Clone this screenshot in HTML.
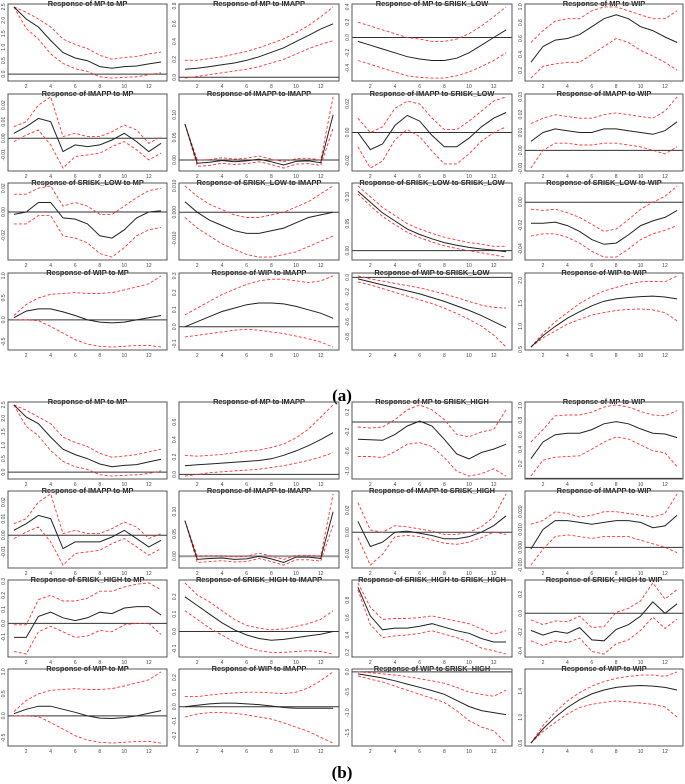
<!DOCTYPE html>
<html><head><meta charset="utf-8"><style>
html,body{margin:0;padding:0;background:#fff;}
svg{display:block;font-family:"Liberation Sans",Arial,sans-serif;}
</style></head><body>
<svg id="fig" width="685" height="784" viewBox="0 0 685 784" xmlns="http://www.w3.org/2000/svg">
<text x="342" y="401" text-anchor="middle" font-family="Liberation Serif" font-weight="bold" font-size="17">(a)</text>
<text x="342" y="778" text-anchor="middle" font-family="Liberation Serif" font-weight="bold" font-size="17">(b)</text>
</svg>
<script>
const periods=[1,2,3,4,5,6,7,8,9,10,11,12,13];
const xTicks=[2,4,6,8,10,12];
const varsA=["MP","IMAPP","SRISK_LOW","WIP"];
const varsB=["MP","IMAPP","SRISK_HIGH","WIP"];
const A_mid=[
[2.5,2.05,1.75,1.25,0.8,0.6,0.5,0.28,0.22,0.28,0.3,0.38,0.45],
[.09,.10,.12,.14,.16,.19,.23,.28,.33,.40,.47,.54,.60],
[-0.05,-0.1,-0.15,-0.2,-0.25,-0.28,-0.3,-0.3,-0.27,-0.2,-0.1,0.0,0.1],
[.3,.5,.58,.6,.65,.75,.85,.9,.85,.75,.7,.62,.55],
[.003,.007,.012,.010,-.008,-.004,-.005,-.004,-.001,.003,-.002,-.008,-.003],
[.08,-.007,-.005,-.001,-.004,-.002,.002,-.004,-.011,-.003,-.002,-.006,.10],
[0.0,-0.012,-0.008,0.005,0.012,0.008,-0.002,-0.01,-0.01,-0.004,0.004,0.01,0.014],
[.005,.01,.012,.011,.01,.01,.012,.012,.011,.01,.009,.011,.016],
[-0.002,0,0.008,0.008,-0.005,-0.006,-0.01,-0.02,-0.022,-0.015,-0.005,0,0.001],
[0.004,0.0,-0.003,-0.005,-0.007,-0.008,-0.008,-0.007,-0.006,-0.004,-0.002,-0.001,0.0],
[.11,.09,.07,.055,.04,.03,.022,.015,.01,.006,.003,.001,-.002],
[-.018,-.018,-.017,-.02,-.025,-.032,-.036,-.035,-.028,-.02,-.016,-.013,-.007],
[0.05,.2,.25,.25,.18,.1,0,-.05,-.07,-.05,0,.05,.1],
[0.0,0.03,0.06,0.09,0.11,0.13,0.14,0.14,0.135,0.12,0.1,0.08,0.05],
[-.02,-.06,-.1,-.14,-.18,-.22,-.27,-.32,-.38,-.44,-.51,-.59,-.67],
[.55,.8,1.0,1.18,1.32,1.45,1.55,1.6,1.63,1.65,1.66,1.64,1.6]];
const A_lo=[
[2.5,1.7,1.3,0.75,0.4,0.2,0.1,-0.1,-0.15,-0.12,-0.1,-0.02,0.05],
[-0.01,.01,.03,.05,.07,.09,.12,.16,.20,.26,.32,.37,.41],
[-0.3,-0.35,-0.4,-0.45,-0.5,-0.52,-0.53,-0.53,-0.5,-0.45,-0.38,-0.3,-0.2],
[.1,.25,.28,.3,.3,.4,.5,.6,.55,.45,.38,.3,.2],
[-.002,.002,.005,-.004,-.018,-.011,-.010,-.009,-.005,-.002,-.007,-.013,-.009],
[.08,-.014,-.012,-.007,-.01,-.008,-.004,-.01,-.018,-.009,-.008,-.012,.07],
[-0.01,-0.025,-0.02,-0.005,0.002,-0.003,-0.013,-0.022,-0.022,-0.015,-0.006,0.0,0.004],
[-0.01,0.0,0.004,0.004,0.003,0.003,0.004,0.004,0.003,0.002,0.0,-0.002,0.002],
[-0.01,-0.01,-0.003,-0.003,-0.02,-0.022,-0.026,-0.035,-0.038,-0.03,-0.02,-0.015,-0.013],
[-0.002,-0.006,-0.009,-0.012,-0.014,-0.016,-0.017,-0.017,-0.016,-0.015,-0.013,-0.011,-0.009],
[.105,.083,.063,.048,.034,.024,.016,.009,.004,0,-.004,-.008,-.012],
[-.029,-.027,-.027,-.03,-.035,-.042,-.047,-.047,-.04,-.032,-.027,-.024,-.02],
[0,0,-.02,-.15,-.3,-.45,-.55,-.6,-.62,-.6,-.58,-.58,-.62],
[-0.06,-0.05,-0.04,-0.03,-0.02,-0.015,-0.02,-0.03,-0.04,-0.055,-0.07,-0.09,-0.12],
[-.06,-.1,-.15,-.2,-.25,-.3,-.35,-.41,-.48,-.56,-.65,-.77,-.93],
[.55,.75,.9,1.05,1.15,1.25,1.3,1.35,1.37,1.38,1.36,1.3,1.12]];
const A_hi=[
[2.5,2.3,2.05,1.75,1.3,1.1,0.95,0.7,0.55,0.62,0.65,0.75,0.82],
[.19,.19,.21,.23,.26,.29,.33,.38,.43,.50,.58,.68,.79],
[0.2,0.15,0.1,0.05,0,-0.02,-0.05,-0.05,-0.02,0.05,0.15,0.27,0.4],
[.55,.7,.82,.85,.85,.95,1.0,1.0,.95,.9,.85,.85,.95],
[.007,.010,.02,.025,.001,.003,.001,.001,.004,.008,.005,-.003,.001],
[.08,.000,.001,.005,.002,.004,.009,.002,-.004,.003,.004,.000,.14],
[0.01,0.0,0.004,0.017,0.022,0.02,0.01,0.002,0.002,0.008,0.015,0.022,0.025],
[.015,.018,.02,.019,.018,.018,.02,.021,.02,.019,.018,.022,.03],
[0.015,0.015,0.02,0.022,0.005,0.008,0.005,-0.002,-0.002,0.005,0.012,0.018,0.02],
[0.010,0.006,0.003,0.001,-0.001,-0.002,-0.002,-0.001,0,0.002,0.004,0.007,0.010],
[.12,.1,.08,.065,.05,.04,.032,.025,.02,.015,.012,.008,.008],
[-.006,-.007,-.006,-.009,-.013,-.019,-.025,-.023,-.015,-.006,.0,.005,.014],
[.1,.35,.5,.58,.6,.62,.6,.6,.62,.68,.75,.82,1.0],
[0.07,0.11,0.15,0.19,0.22,0.25,0.27,0.28,0.28,0.27,0.26,0.27,0.3],
[.02,-.02,-.05,-.08,-.11,-.14,-.18,-.22,-.27,-.32,-.37,-.4,-.41],
[.55,.85,1.1,1.3,1.5,1.65,1.77,1.85,1.92,1.97,1.98,1.97,2.1]];
const B_mid=[
[2.5,2.05,1.8,1.3,0.85,0.65,0.5,0.3,0.2,0.25,0.28,0.38,0.48],
[.1,.11,.12,.13,.14,.15,.16,.18,.22,.27,.33,.40,.48],
[-0.35,-0.36,-0.37,-0.25,-0.08,0.02,-0.08,-0.35,-0.65,-0.75,-0.62,-0.55,-0.45],
[.27,.5,.6,.62,.62,.67,.75,.78,.75,.68,.62,.61,.56],
[.003,.007,.012,.010,-.008,-.004,-.004,-.004,-.001,.003,-.002,-.007,-.003],
[.08,-.007,-.005,-.004,-.007,-.006,.0,-.006,-.014,-.002,-.002,-.005,.10],
[.01,-.013,-.009,.0,.001,-.001,-.003,-.006,-.006,-.004,.0,.006,.015],
[-.001,.010,.015,.015,.014,.013,.014,.015,.015,.014,.011,.012,.018],
[-.1,-.1,.05,.08,.04,.02,.04,.08,.07,.11,.12,.12,.06],
[.2,.15,.1,.05,.01,-.02,-.04,-.05,-.045,-.035,-.025,-.015,0],
[.95,.62,.46,.48,.48,.5,.53,.49,.45,.42,.36,.32,.32],
[-.18,-.23,-.19,-.21,-.15,-.28,-.29,-.17,-.12,-.03,.12,.0,.1],
[0.05,.15,.22,.22,.15,.08,0,-.05,-.06,-.04,0,.06,.12],
[.0,.01,.02,.025,.025,.02,.015,.005,-.005,-.01,-.01,-.01,-.01],
[-.05,-.1,-.15,-.22,-.3,-.38,-.46,-.55,-.7,-.85,-.95,-1.0,-1.05],
[.6,.82,1.0,1.15,1.27,1.36,1.42,1.46,1.48,1.49,1.48,1.46,1.42]];
const B_lo=[
[2.5,1.7,1.35,0.8,0.4,0.2,0.1,-0.1,-0.15,-0.12,-0.1,-0.05,0.05],
[-.02,.0,.02,.03,.04,.05,.06,.08,.10,.13,.16,.20,.25],
[-0.7,-0.7,-0.72,-0.6,-0.45,-0.42,-0.5,-0.72,-1.0,-1.1,-1.05,-0.95,-1.1],
[.03,.25,.29,.3,.31,.4,.5,.57,.54,.46,.38,.35,.16],
[-.002,.002,.005,-.004,-.018,-.011,-.010,-.009,-.005,-.002,-.007,-.012,-.008],
[.08,-.014,-.012,-.01,-.013,-.012,-.005,-.012,-.02,-.008,-.008,-.011,.07],
[-.005,-.03,-.02,-.004,-.003,-.004,-.007,-.01,-.011,-.009,-.005,.0,-.002],
[-.01,-.001,.006,.007,.006,.005,.006,.006,.006,.004,.002,.0,-.003],
[-.2,-.22,-.06,-.02,-.06,-.1,-.09,-.05,-.06,-.01,.0,.0,-.08],
[.12,.07,.02,-.02,-.06,-.09,-.11,-.12,-.12,-.115,-.11,-.115,-.13],
[.92,.52,.37,.39,.4,.42,.45,.41,.37,.32,.25,.22,.18],
[-.29,-.34,-.29,-.31,-.26,-.40,-.43,-.32,-.28,-.18,-.04,-.16,-.06],
[0,0,-.02,-.15,-.3,-.45,-.55,-.6,-.62,-.6,-.58,-.58,-.62],
[-.07,-.05,-.04,-.04,-.045,-.055,-.07,-.085,-.11,-.14,-.17,-.21,-.25],
[-.1,-.18,-.25,-.35,-.45,-.55,-.65,-.75,-.95,-1.2,-1.35,-1.45,-1.75],
[.6,.78,.92,1.05,1.15,1.2,1.23,1.25,1.24,1.22,1.2,1.16,1.0]];
const B_hi=[
[2.5,2.3,2.05,1.8,1.3,1.1,0.95,0.7,0.55,0.6,0.65,0.75,0.85],
[.22,.21,.22,.23,.25,.27,.28,.31,.35,.42,.52,.66,.80],
[-0.1,-0.12,-0.1,0.05,0.25,0.35,0.25,0.05,-0.25,-0.3,-0.2,-0.15,0.25],
[.5,.67,.86,.87,.87,.91,.98,1.01,.98,.92,.87,.86,.93],
[.007,.010,.02,.025,.001,.003,.001,.001,.004,.008,.005,-.002,.001],
[.08,.000,.001,.001,-.001,.0,.007,.0,-.007,.002,.002,.0,.14],
[.027,.002,.0,.006,.005,.003,.001,-.002,-.002,.0,.005,.014,.035],
[.013,.015,.02,.019,.017,.018,.02,.020,.019,.018,.017,.019,.03],
[-.01,-.01,.17,.2,.16,.16,.18,.23,.23,.26,.28,.29,.24],
[.28,.21,.17,.12,.07,.035,.02,.01,.015,.03,.045,.07,.12],
[1.0,.72,.58,.59,.59,.6,.62,.59,.56,.53,.47,.41,.45],
[-.07,-.12,-.08,-.09,-.03,-.15,-.14,.01,.05,.13,.32,.15,.25],
[.1,.35,.5,.58,.6,.62,.6,.6,.62,.68,.75,.82,1.0],
[.07,.07,.08,.09,.095,.1,.1,.095,.09,.1,.13,.18,.24],
[.0,-.02,-.05,-.08,-.12,-.17,-.22,-.28,-.38,-.5,-.55,-.6,-.45],
[.6,.87,1.08,1.25,1.38,1.48,1.55,1.6,1.63,1.65,1.65,1.63,1.7]];
const A_yticks=[
["0.0","0.5","1.0","1.5","2.0","2.5"],["0.0","0.2","0.4","0.6","0.8"],["-0.4","-0.2","0.0","0.2","0.4"],["0.2","0.4","0.6","0.8","1.0"],
["-0.01","0.00","0.01","0.02"],["0.00","0.05","0.10"],["-0.02","0.00","0.02"],["-0.01","0.00","0.01","0.02","0.03"],
["-0.02","0.00","0.02"],["-0.010","0.000","0.010"],["0.00","0.05","0.10"],["-0.04","-0.02","0.00"],
["-0.5","0.0","0.5","1.0"],["-0.1","0.0","0.1","0.2","0.3"],["-0.8","-0.6","-0.4","-0.2","0.0"],["0.5","1.0","1.5","2.0"]];
const B_yticks=[
["0.0","0.5","1.0","1.5","2.0","2.5"],["0.0","0.2","0.4","0.6"],["-1.0","-0.6","-0.2","0.2"],["0.2","0.4","0.6","0.8","1.0"],
["-0.01","0.00","0.01","0.02"],["0.00","0.05","0.10"],["-0.02","0.00","0.02"],["-0.010","0.000","0.010","0.020"],
["-0.1","0.0","0.1","0.2","0.3"],["-0.1","0.0","0.1","0.2"],["0.2","0.4","0.6","0.8"],["-0.4","-0.2","0.0","0.2"],
["-0.5","0.0","0.5","1.0"],["-0.2","-0.1","0.0","0.1","0.2"],["-1.5","-1.0","-0.5","0.0"],["0.6","1.0","1.4","1.8"]];
const colLeft=[8,179,352,525];
const colRight=[167,339,512,683];
const rowTopA=[4,94,183,273];
const rowTopB=[402,491,580,669];
const boxH=77;
const NS="http://www.w3.org/2000/svg";
const svg=document.getElementById('fig');
function mk(tag,attrs,parent){const e=document.createElementNS(NS,tag);for(const k in attrs)e.setAttribute(k,attrs[k]);(parent||svg).appendChild(e);return e;}
function drawPanel(group,r,c,vars,mid,lo,hi,yt,tops){
  const i=r*4+c;
  const L=colLeft[c],R=colRight[c],T=tops[r],B=T+boxH;
  const g=mk('g',{});
  
  
  const all=mid[i].concat(lo[i],hi[i]);
  let ymin=Math.min(...all),ymax=Math.max(...all);
  const pad=(ymax-ymin)*0.04;ymin-=pad;ymax+=pad;
  const xs=v=>L+(R-L)*((v-0.52)/12.96);
  const ys=v=>B-(B-T)*((v-ymin)/(ymax-ymin));
  const t=mk('text',{x:(L+R)/2,y:T+2,'text-anchor':'middle','font-size':'7.4','font-weight':'bold',fill:'#222'},g);
  t.textContent='Response of '+vars[r]+' to '+vars[c];
  
  
  const z=ys(0);
  if(z>T&&z<B){const zl=mk('line',{x1:L,x2:R,y1:z,y2:z,stroke:group==='b'&&i===5?'#999':'#333','stroke-width':group==='b'&&i===5?2:1},g);
    
    }
  const path=arr=>arr.map((v,k)=>(k?'L':'M')+xs(periods[k]).toFixed(1)+' '+ys(v).toFixed(1)).join(' ');
  const pl=mk('path',{d:path(lo[i]),fill:'none',stroke:'#f33','stroke-width':0.9,'stroke-dasharray':'3,2'},g);
  
  
  const ph=mk('path',{d:path(hi[i]),fill:'none',stroke:'#f33','stroke-width':0.9,'stroke-dasharray':'3,2'},g);
  
  
  const pm=mk('path',{d:path(mid[i]),fill:'none',stroke:'#222','stroke-width':1},g);
  
  
  const bx=mk('rect',{x:L,y:T,width:R-L,height:boxH,fill:'none',stroke:'#555','stroke-width':1},g);
  
  
  xTicks.forEach(v=>{const tx=mk('text',{x:xs(v),y:B+7,'text-anchor':'middle','font-size':'5',fill:'#444'},g);tx.textContent=String(v);
    
    });
  yt[i].forEach(s=>{const v=parseFloat(s);const y=ys(v);if(y<T-1||y>B+1)return;
    const ty=mk('text',{x:L-3,y:y,'text-anchor':'middle','font-size':'5',fill:'#444',transform:'rotate(-90 '+(L-3)+' '+y+')'},g);ty.textContent=s;
    
    });
}
for(let r=0;r<4;r++)for(let c=0;c<4;c++){
  drawPanel('a',r,c,varsA,A_mid,A_lo,A_hi,A_yticks,rowTopA);
  drawPanel('b',r,c,varsB,B_mid,B_lo,B_hi,B_yticks,rowTopB);
}
</script>
</body></html>
